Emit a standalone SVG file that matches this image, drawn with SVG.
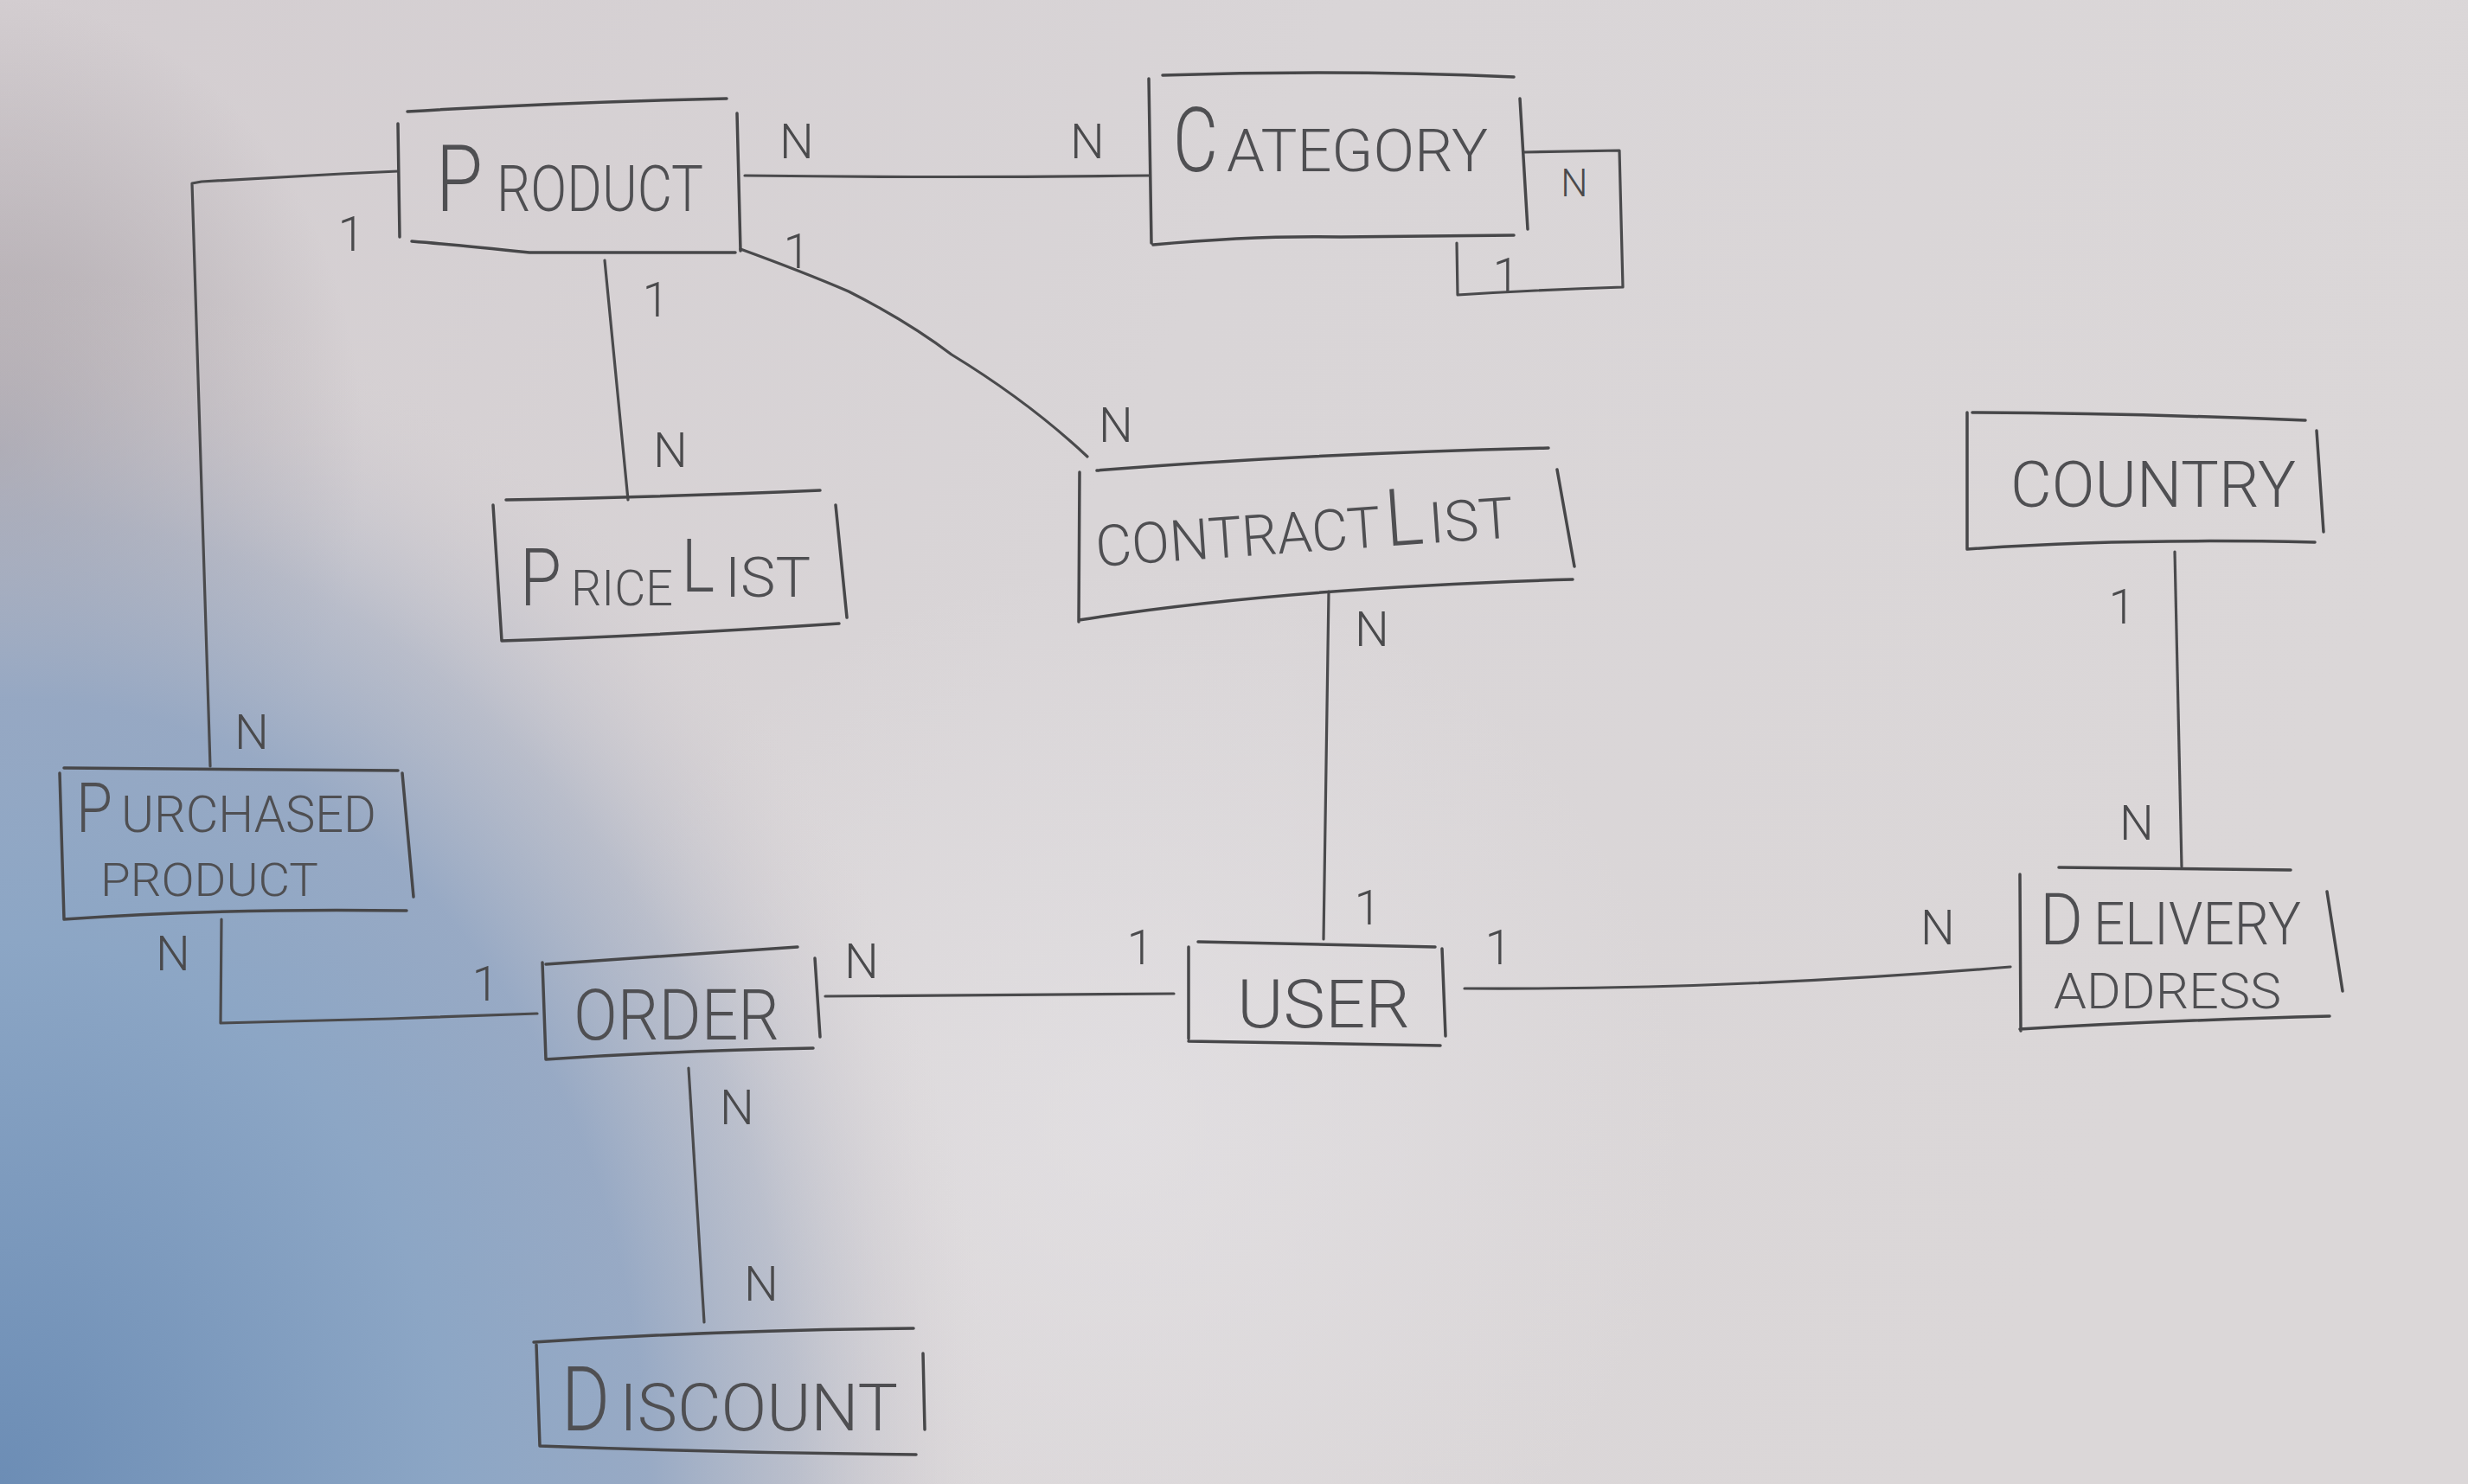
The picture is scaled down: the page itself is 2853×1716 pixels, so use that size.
<svg xmlns="http://www.w3.org/2000/svg" width="2853" height="1716" viewBox="0 0 2853 1716">
<defs>
<linearGradient id="board" x1="0" y1="0" x2="1" y2="0.3">
<stop offset="0" stop-color="#d3cdd0"/>
<stop offset="0.5" stop-color="#d9d5d7"/>
<stop offset="1" stop-color="#dbd7d8"/>
</linearGradient>
<radialGradient id="vignette" gradientUnits="userSpaceOnUse" cx="0" cy="0" r="1" gradientTransform="translate(0 520) scale(420 520)">
<stop offset="0" stop-color="#9a939a" stop-opacity="0.7"/>
<stop offset="0.5" stop-color="#9a939a" stop-opacity="0.35"/>
<stop offset="1" stop-color="#9a939a" stop-opacity="0"/>
</radialGradient>
<radialGradient id="shadow" gradientUnits="userSpaceOnUse" cx="0" cy="0" r="1" gradientTransform="translate(0 1716) scale(1150 1400)">
<stop offset="0" stop-color="#6c8db5" stop-opacity="1"/>
<stop offset="0.45" stop-color="#8ca6c5" stop-opacity="1"/>
<stop offset="0.65" stop-color="#92a6c3" stop-opacity="0.92"/>
<stop offset="0.8" stop-color="#a5afc3" stop-opacity="0.6"/>
<stop offset="0.92" stop-color="#c4c2ca" stop-opacity="0.25"/>
<stop offset="1" stop-color="#d6d1d3" stop-opacity="0"/>
</radialGradient>
<radialGradient id="glow" gradientUnits="userSpaceOnUse" cx="1300" cy="1300" r="650">
<stop offset="0" stop-color="#e6e4e7" stop-opacity="0.6"/>
<stop offset="1" stop-color="#e6e4e7" stop-opacity="0"/>
</radialGradient>
</defs>
<style>
.box{fill:none;stroke:#474749;stroke-width:3.5;stroke-linecap:round;stroke-linejoin:round}
.con{fill:none;stroke:#4a4a4c;stroke-width:3.2;stroke-linecap:round;stroke-linejoin:round}
.t{font-family:Roboto,"Liberation Sans",sans-serif;font-weight:300;fill:#4f4f52}
.c{font-family:Roboto,"Liberation Sans",sans-serif;font-weight:300;fill:#4a4a4c;text-anchor:middle;font-size:56px}
</style>
<rect x="0" y="0" width="2853" height="1716" fill="url(#board)"/>
<rect x="0" y="0" width="2853" height="1716" fill="url(#glow)"/>
<rect x="0" y="0" width="2853" height="1716" fill="url(#vignette)"/>
<rect x="0" y="0" width="2853" height="1716" fill="url(#shadow)"/>

<g id="connectors">
<path class="con" d="M861,203 Q1100,206 1328,203"/>
<path class="con" d="M460,198 L395,201 L233,210 L222,212 L243,886"/>
<path class="con" d="M699,301 L726,578"/>
<path class="con" d="M856,288 Q930,315 981,337 Q1050,372 1100,410 Q1190,465 1257,528"/>
<path class="con" d="M1536,684 L1530,1086"/>
<path class="con" d="M256,1063 L255,1183 L450,1178 L621,1172"/>
<path class="con" d="M954,1152 L1357,1149"/>
<path class="con" d="M796,1235 L814,1529"/>
<path class="con" d="M1693,1143 Q2000,1145 2324,1118"/>
<path class="con" d="M2514,638 L2522,1002"/>
<path class="con" d="M1761,176 L1872,174 L1876,332 Q1780,335 1685,341 L1684,281"/>
<g id="cardinalities">
<text class="c" x="921" y="183">N</text>
<text class="c" x="1257" y="183">N</text>
<text class="c" x="406" y="290">1</text>
<text class="c" x="291" y="866">N</text>
<text class="c" x="758" y="366">1</text>
<text class="c" x="775" y="540">N</text>
<text class="c" x="921" y="310">1</text>
<text class="c" x="1290" y="511">N</text>
<text class="c" x="1820" y="227" style="font-size:44px">N</text>
<text class="c" x="1741" y="338">1</text>
<text class="c" x="1586" y="747">N</text>
<text class="c" x="1581" y="1069">1</text>
<text class="c" x="200" y="1122">N</text>
<text class="c" x="561" y="1157">1</text>
<text class="c" x="996" y="1131">N</text>
<text class="c" x="1318" y="1115">1</text>
<text class="c" x="852" y="1300">N</text>
<text class="c" x="880" y="1504">N</text>
<text class="c" x="1732" y="1115">1</text>
<text class="c" x="2240" y="1092">N</text>
<text class="c" x="2453" y="721">1</text>
<text class="c" x="2470" y="971">N</text>
</g>
</g>

<g id="product">
<path class="box" d="M471,129 Q650,118 840,114 M460,143 L462,274 M476,279 Q525,283 612,292 L850,292 M852,131 L856,290"/>
<text class="t" y="244"><tspan x="504" font-size="108" textLength="54" lengthAdjust="spacingAndGlyphs">P</tspan><tspan x="574" font-size="74" textLength="239" lengthAdjust="spacingAndGlyphs">RODUCT</tspan></text>
</g>

<g id="category">
<path class="box" d="M1344,87 Q1550,80 1750,89 M1328,91 L1331,281 M1757,114 L1766,265 M1333,283 Q1450,272 1550,274 L1750,272"/>
<text class="t" y="198"><tspan x="1356" font-size="104" textLength="52" lengthAdjust="spacingAndGlyphs">C</tspan><tspan x="1418" font-size="68" textLength="302" lengthAdjust="spacingAndGlyphs">ATEGORY</tspan></text>
</g>

<g id="pricelist">
<path class="box" d="M585,578 Q760,575 948,567 M570,584 L580,741 M966,584 L979,714 M580,741 Q760,735 970,721"/>
<text class="t" y="700"><tspan x="601" font-size="92" textLength="48" lengthAdjust="spacingAndGlyphs">P</tspan><tspan x="660" font-size="58" textLength="118" lengthAdjust="spacingAndGlyphs">RICE</tspan><tspan x="788" y="684" font-size="86" textLength="38" lengthAdjust="spacingAndGlyphs">L</tspan><tspan x="838" y="690" font-size="64" textLength="99" lengthAdjust="spacingAndGlyphs">IST</tspan></text>
</g>

<g id="contractlist">
<path class="box" d="M1268,544 Q1500,525 1790,518 M1248,546 L1247,719 M1800,543 L1820,655 M1247,717 Q1480,680 1818,670"/>
<text class="t" y="655" transform="rotate(-4 1268 655)"><tspan x="1268" font-size="66" textLength="330" lengthAdjust="spacingAndGlyphs">CONTRACT</tspan><tspan x="1604" font-size="92" textLength="44" lengthAdjust="spacingAndGlyphs">L</tspan><tspan x="1654" font-size="66" textLength="98" lengthAdjust="spacingAndGlyphs">IST</tspan></text>
</g>

<g id="country">
<path class="box" d="M2280,477 Q2470,478 2665,486 M2274,477 L2274,635 M2678,498 L2686,615 M2274,635 Q2450,622 2676,627"/>
<text class="t" x="2324" y="586" font-size="74" textLength="330" lengthAdjust="spacingAndGlyphs">COUNTRY</text>
</g>

<g id="purchased-product">
<path class="box" d="M74,888 L460,891 M69,894 L74,1063 M465,894 L478,1037 M74,1063 Q250,1050 470,1053"/>
<text class="t" y="962"><tspan x="88" font-size="80" textLength="42" lengthAdjust="spacingAndGlyphs">P</tspan><tspan x="140" font-size="60" textLength="295" lengthAdjust="spacingAndGlyphs">URCHASED</tspan></text>
<text class="t" x="116" y="1036" font-size="54" textLength="252" lengthAdjust="spacingAndGlyphs">PRODUCT</text>
</g>

<g id="order">
<path class="box" d="M631,1115 Q780,1105 922,1095 M627,1113 L631,1225 M942,1108 L948,1199 M631,1225 Q780,1215 940,1212"/>
<text class="t" x="663" y="1202" font-size="82" textLength="238" lengthAdjust="spacingAndGlyphs">ORDER</text>
</g>

<g id="user">
<path class="box" d="M1385,1089 L1659,1095 M1374,1095 L1374,1201 M1667,1097 L1671,1198 M1374,1204 L1665,1209"/>
<text class="t" x="1430" y="1188" font-size="78" textLength="200" lengthAdjust="spacingAndGlyphs">USER</text>
</g>

<g id="delivery-address">
<path class="box" d="M2380,1003 L2648,1006 M2335,1011 L2336,1192 M2690,1031 L2708,1146 M2335,1190 Q2500,1180 2693,1175"/>
<text class="t" y="1092"><tspan x="2358" font-size="84" textLength="50" lengthAdjust="spacingAndGlyphs">D</tspan><tspan x="2420" font-size="68" textLength="240" lengthAdjust="spacingAndGlyphs">ELIVERY</tspan></text>
<text class="t" x="2374" y="1166" font-size="58" textLength="263" lengthAdjust="spacingAndGlyphs">ADDRESS</text>
</g>

<g id="discount">
<path class="box" d="M617,1552 Q830,1538 1056,1536 M620,1555 L624,1672 M1067,1565 L1069,1653 M624,1672 Q840,1680 1059,1682"/>
<text class="t" y="1654"><tspan x="649" font-size="104" textLength="56" lengthAdjust="spacingAndGlyphs">D</tspan><tspan x="716" font-size="76" textLength="322" lengthAdjust="spacingAndGlyphs">ISCOUNT</tspan></text>
</g>
</svg>
